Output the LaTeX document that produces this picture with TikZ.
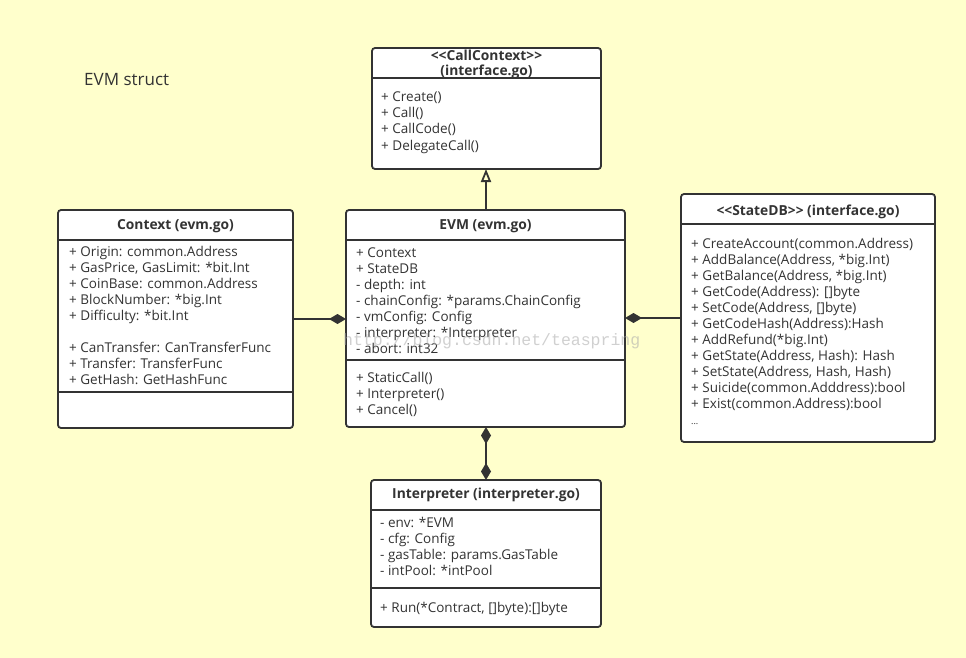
\documentclass[tikz,border=0pt]{standalone}
\usepackage{fontspec}
\setmainfont{Open Sans}
\newfontfamily\wmfont{Liberation Mono}
\usetikzlibrary{arrows.meta}
\definecolor{bg}{RGB}{255,255,204}
\definecolor{ink}{RGB}{51,51,51}
\definecolor{wm}{RGB}{170,170,170}
\tikzset{
  umlbox/.style={draw=ink, fill=white, line width=1.8pt, rounded corners=3pt,
    inner sep=0pt, outer sep=0pt, anchor=north west},
  divider/.style={draw=ink, line width=1.8pt},
  txt/.style={anchor=base west, inner sep=0pt, text=ink, font=\fontsize{13.5}{16}\selectfont},
  hdr/.style={anchor=base, inner sep=0pt, text=ink, font=\bfseries\fontsize{13.8}{16}\selectfont},
  conn/.style={draw=ink, line width=1.8pt},
  compose/.style={-{Diamond[length=17pt,width=10pt]}},
  realize/.style={-{Triangle[open,length=13pt,width=10pt,line width=1.8pt]}},
}
\begin{document}
\begin{tikzpicture}[x=1pt,y=-1pt]
\fill[bg] (0,0) rectangle (966,658);
\useasboundingbox (0,0) rectangle (966,658);

\node[anchor=base west, inner sep=0pt, text=ink, font=\fontsize{17}{20}\selectfont] (title) at (84,86) {EVM struct};

% CallContext
\node[umlbox, minimum width=229pt, minimum height=121pt] (cc) at (372,48) {};
\draw[divider] (372,78) -- (601,78);
\node[hdr] (cc-h1) at (486.5,61) {<{}<CallContext>{}>};
\node[hdr] (cc-h2) at (486.5,75.5) {(interface.go)};
\foreach \t [count=\i] in {{+ Create()},{+ Call()},{+ CallCode()},{+ DelegateCall()}}
  \node[txt] (cc-m\i) at (381,86+16*\i) {\t};

% Context
\node[umlbox, minimum width=235pt, minimum height=218pt] (ctx) at (58,210) {};
\draw[divider] (58,240) -- (293,240);
\draw[divider] (58,392) -- (293,392);
\node[hdr] (ctx-h) at (175.5,229.5) {Context (evm.go)};
\foreach \t [count=\i] in {{+ Origin: common.Address},{+ GasPrice, GasLimit: *bit.Int},{+ CoinBase: common.Address},{+ BlockNumber: *big.Int},{+ Difficulty: *bit.Int}}
  \node[txt] (ctx-a\i) at (69,240+16*\i) {\t};
\foreach \t [count=\i] in {{+ CanTransfer: CanTransferFunc},{+ Transfer: TransferFunc},{+ GetHash: GetHashFunc}}
  \node[txt] (ctx-b\i) at (69,336+16*\i) {\t};

% EVM
\node[umlbox, minimum width=279pt, minimum height=217pt] (evm) at (346,210) {};
\draw[divider] (346,240) -- (625,240);
\draw[divider] (346,360) -- (625,360);
\node[hdr] (evm-h) at (485.5,229.5) {EVM (evm.go)};
\foreach \t [count=\i] in {{+ Context},{+ StateDB},{- depth: int},{- chainConfig: *params.ChainConfig},{- vmConfig: Config},{- interpreter: *Interpreter},{- abort: int32}}
  \node[txt] (evm-a\i) at (356,241+16*\i) {\t};
\foreach \t [count=\i] in {{+ StaticCall()},{+ Interpreter()},{+ Cancel()}}
  \node[txt] (evm-m\i) at (356,366+16*\i) {\t};

% StateDB
\node[umlbox, minimum width=254pt, minimum height=248pt] (sdb) at (681,194) {};
\draw[divider] (681,224) -- (935,224);
\node[hdr] (sdb-h) at (808,215) {<{}<StateDB>{}> (interface.go)};
\foreach \t [count=\i] in {{+ CreateAccount(common.Address)},{+ AddBalance(Address, *big.Int)},{+ GetBalance(Address, *big.Int)},{+ GetCode(Address): []byte},{+ SetCode(Address, []byte)},{+ GetCodeHash(Address):Hash},{+ AddRefund(*big.Int)},{+ GetState(Address, Hash): Hash},{+ SetState(Address, Hash, Hash)},{+ Suicide(common.Adddress):bool},{+ Exist(common.Address):bool}}
  \node[txt] (sdb-m\i) at (691,232+16*\i) {\t};
\node[txt, font=\fontsize{9}{10}\selectfont] (sdb-more) at (691,424) {...};

% Interpreter
\node[umlbox, minimum width=230pt, minimum height=147pt] (itp) at (371,480) {};
\draw[divider] (371,510) -- (601,510);
\draw[divider] (371,588) -- (601,588);
\node[hdr] (itp-h) at (486,498.5) {Interpreter (interpreter.go)};
\foreach \t [count=\i] in {{- env: *EVM},{- cfg: Config},{- gasTable: params.GasTable},{- intPool: *intPool}}
  \node[txt] (itp-a\i) at (380,511+16*\i) {\t};
\node[txt] (itp-m1) at (380,612) {+ Run(*Contract, []byte):[]byte};

% connectors
\coordinate (evm-top) at (486,210);
\coordinate (cc-bot) at (486,169);
\draw[conn, realize] (evm-top) -- (cc-bot);
\coordinate (ctx-r) at (293,319);
\coordinate (evm-l) at (346,319);
\draw[conn, compose] (ctx-r) -- (evm-l);
\coordinate (sdb-l) at (681,318);
\coordinate (evm-r) at (625,318);
\draw[conn, compose] (sdb-l) -- (evm-r);
\coordinate (evm-b) at (486,427);
\coordinate (itp-t) at (486,480);
\draw[conn, {Diamond[length=17pt,width=10pt]}-{Diamond[length=17pt,width=10pt]}] (evm-b) -- (itp-t);

% watermark
\node[anchor=base west, inner sep=0pt, text=wm, opacity=0.55, font=\wmfont\fontsize{16.5}{18}\selectfont] (wmark) at (343,345) {http://blog.csdn.net/teaspring};
\end{tikzpicture}
\end{document}
